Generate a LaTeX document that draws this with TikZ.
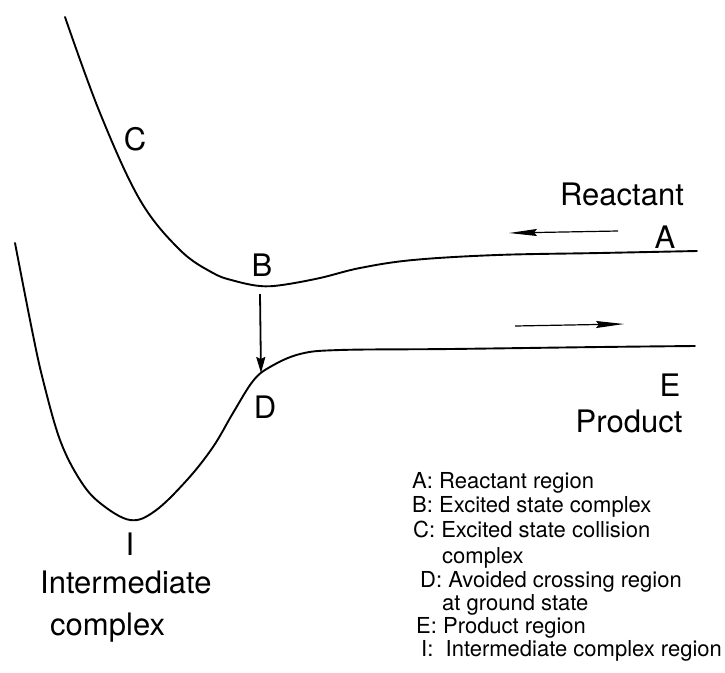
\documentclass[tikz,border=0pt]{standalone}
\usepackage{fontspec}
\setmainfont{TeX Gyre Heros}
\usetikzlibrary{arrows.meta}
\begin{document}
\begin{tikzpicture}[x=1pt,y=-1pt,
  curve/.style={line width=1.9pt,line join=round,line cap=round},
  varr/.style={line width=1.8pt,-{Stealth[length=16pt,width=9pt,inset=2pt]}},
  harr/.style={line width=1.2pt,-{Stealth[length=28pt,width=7pt,inset=3pt]}},
  big/.style={inner sep=0pt,font=\fontsize{31}{31}\selectfont},
  leg/.style={inner sep=0pt,anchor=base west,font=\fontsize{22}{22}\selectfont}]
\useasboundingbox (0,0) rectangle (725,672);
% upper (excited) curve
\draw[curve] plot[smooth,tension=0.6] coordinates {(65,17) (100,113) (140,200) (180,250) (213,273) (235,281) (260,286) (282,285) (320,278) (360,268) (413,260) (497,255) (600,253) (697,251)};
% lower (ground) curve
\draw[curve] plot[smooth,tension=0.6] coordinates {(15,243) (32,330) (43,380) (60,440) (80,480) (100,503) (130,520) (155,511) (187,480) (213,447) (233,413) (253,381) (270,367) (300,354) (340,350) (450,349) (600,347) (695,346)};
\coordinate (Btop) at (260,294);
\coordinate (Dpt) at (261,373);
\draw[varr] (Btop) -- (Dpt);
\coordinate (r1) at (618,231);
\coordinate (r2) at (509,233);
\draw[harr] (r1) -- (r2);
\coordinate (p1) at (515,326);
\coordinate (p2) at (624,324);
\draw[harr] (p1) -- (p2);
% labels
\node[big,anchor=base] (lC) at (135,150) {C};
\node[big,anchor=base] (lB) at (262,276) {B};
\node[big,anchor=base] (lD) at (265,418) {D};
\node[big,anchor=base] (lA) at (665,248) {A};
\node[big,anchor=base] (lE) at (670,396) {E};
\node[big,anchor=base] (lR) at (622,205) {Reactant};
\node[big,anchor=base] (lP) at (629,432) {Product};
\node[big,anchor=base] (lI) at (130,555) {I};
\node[big,anchor=base west] (lInt) at (40,593) {Intermediate};
\node[big,anchor=base west] (lcx) at (50,635) {complex};
% legend
\node[leg] (g1) at (412,488) {A: Reactant region};
\node[leg] (g2) at (412,512) {B: Excited state complex};
\node[leg] (g3) at (413,537) {C: Excited state collision};
\node[leg] (g4) at (442,563) {complex};
\node[leg] (g5) at (420,587) {D: Avoided crossing region};
\node[leg] (g6) at (442,610) {at ground state};
\node[leg] (g7) at (416,633) {E: Product region};
\node[leg] (g8) at (421,656) {I:\ \ Intermediate complex region};
\end{tikzpicture}
\end{document}
